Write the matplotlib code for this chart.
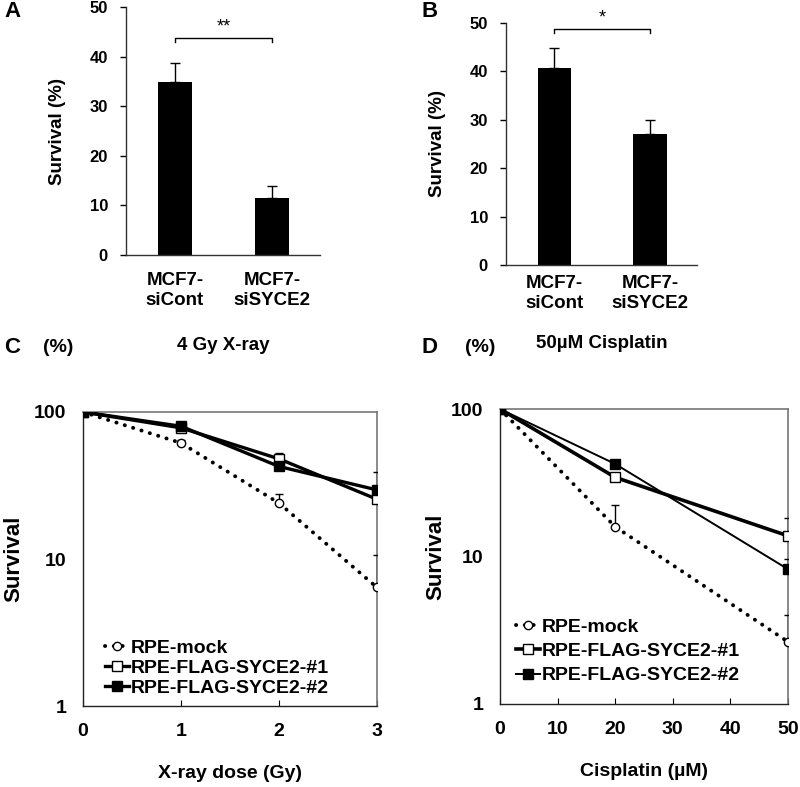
import numpy as np
import matplotlib
matplotlib.use("Agg")
import matplotlib.pyplot as plt
from matplotlib.legend_handler import HandlerLine2D

plt.rcParams['font.family'] = ['Liberation Sans', 'DejaVu Sans']
plt.rcParams['font.weight'] = 'bold'
plt.rcParams['axes.labelweight'] = 'bold'

# --- data ---
bar_groups = ["MCF7-\nsiCont", "MCF7-\nsiSYCE2"]
xray_bar = [34.8, 11.5]
xray_bar_err = [3.9, 2.4]
cis_bar = [40.6, 27.1]
cis_bar_err = [4.3, 2.9]

dose_gy = [0, 1, 2, 3]
xray_mock = [100, 61.5, 24.0, 6.4]
xray_mock_err = [0, 3, 3.5, 4.3]
xray_s1 = [100, 78, 48, 25.5]
xray_s1_err = [0, 8, 5, 0]
xray_s2 = [100, 80, 42.6, 29.5]
xray_s2_err = [0, 6, 4, 9.3]

cis_um = [0, 20, 50]
cis_mock = [100, 15.9, 2.64]
cis_mock_err = [0, 6.4, 1.4]
cis_s1 = [100, 34.4, 13.8]
cis_s1_err = [0, 0, 4.4]
cis_s2 = [100, 42.4, 8.2]
cis_s2_err = [0, 3, 1.4]

series_names = ["RPE-mock", "RPE-FLAG-SYCE2-#1", "RPE-FLAG-SYCE2-#2"]

fig = plt.figure(figsize=(8, 7.87), dpi=100)


class EndMarker(HandlerLine2D):
    # marker drawn at the right end of the legend line
    def get_xdata(self, legend, xdescent, ydescent, width, height, fontsize):
        xdata = np.array([-xdescent, -xdescent + width])
        return xdata, np.array([-xdescent + width - 3])


def bar_panel(rect, vals, errs, stars, bracket_y, caption, cap_y, xpad):
    ax = fig.add_axes(rect)
    x = np.arange(len(vals))
    ax.bar(x, vals, width=0.35, color='black')
    ax.errorbar(x, vals, yerr=[np.zeros(len(errs)), errs], fmt='none',
                ecolor='black', elinewidth=1, capsize=3.5, capthick=1)
    ax.set_xlim(-0.505, 1.495)
    ax.set_ylim(0, 50)
    ax.set_yticks([0, 10, 20, 30, 40, 50])
    ax.set_xticks(x)
    ax.set_xticklabels(bar_groups, fontsize=13.5, linespacing=1.2)
    ax.tick_params(axis='x', length=0, pad=xpad)
    ax.tick_params(axis='y', labelsize=12, length=4, width=1, pad=9)
    for s in ['top', 'right']:
        ax.spines[s].set_visible(False)
    for s in ['left', 'bottom']:
        ax.spines[s].set_linewidth(1)
        ax.spines[s].set_color('#333333')
    ax.set_ylabel("Survival (%)", fontsize=13.5, labelpad=17)
    ax.plot([0, 0, 1, 1], [bracket_y - 0.8, bracket_y, bracket_y, bracket_y - 0.8],
            color='black', lw=1, clip_on=False)
    ax.text(0.5, bracket_y + 0.5, stars, ha='center', va='bottom',
            fontsize=13, fontweight='normal', clip_on=False)
    ax.text(0.5, cap_y, caption, transform=ax.transAxes, ha='center',
            va='center', fontsize=13.5)
    return ax


bar_panel([0.1575, 0.676, 0.2425, 0.315], xray_bar, xray_bar_err, "**", 43.8,
          "4 Gy X-ray", -0.365, 12.5)
bar_panel([0.6325, 0.6633, 0.239, 0.3075], cis_bar, cis_bar_err, "*", 48.7,
          "50µM Cisplatin", -0.325, 7.5)


def curve_panel(rect, xs, mock, mock_e, s1, s1_e, s2, s2_e, xlim, xticks,
                s1_lw, s2_lw, xlabel, leg_anchor, leg_space, ypad):
    ax = fig.add_axes(rect)
    z = np.zeros(len(xs))
    c0 = ax.errorbar(xs, mock, yerr=[z, mock_e], color='black',
                     ls=(0, (0.05, 2.2)), lw=2.8, dash_capstyle='round',
                     marker='o', ms=6, mfc='white', mec='black', mew=1,
                     ecolor='black', elinewidth=1, capsize=3, zorder=3)
    c1 = ax.errorbar(xs, s1, yerr=[z, s1_e], color='black', lw=s1_lw,
                     marker='s', ms=6.5, mfc='white', mec='black', mew=1,
                     ecolor='black', elinewidth=1, capsize=3, zorder=4)
    c2 = ax.errorbar(xs, s2, yerr=[z, s2_e], color='black', lw=s2_lw,
                     marker='s', ms=6.5, mfc='black', mec='black',
                     ecolor='black', elinewidth=1, capsize=3, zorder=4)
    ax.set_yscale('log')
    ax.set_ylim(1, 100)
    ax.set_xlim(*xlim)
    ax.set_xticks(xticks)
    ax.set_yticks([1, 10, 100])
    ax.set_yticklabels(["1", "10", "100"])
    ax.yaxis.set_minor_locator(matplotlib.ticker.NullLocator())
    ax.tick_params(axis='both', direction='in', length=4, width=0.8,
                   labelsize=14, pad=12)
    ax.tick_params(axis='y', length=0)
    for s in ['top', 'right']:
        ax.spines[s].set_color('#777777')
        ax.spines[s].set_linewidth(1.2)
    for s in ['left', 'bottom']:
        ax.spines[s].set_color('#222222')
        ax.spines[s].set_linewidth(1)
    ax.set_ylabel("Survival", fontsize=16, labelpad=ypad)
    ax.set_xlabel(xlabel, fontsize=14, labelpad=18)
    handles = [c0[0], c1[0], c2[0]]
    ax.legend(handles, series_names, loc='lower left',
              bbox_to_anchor=leg_anchor, frameon=False, fontsize=14,
              handlelength=1.2, handletextpad=0.1, labelspacing=leg_space,
              borderaxespad=0, numpoints=1,
              handler_map={h: EndMarker() for h in handles})
    return ax


curve_panel([0.10375, 0.1029, 0.3675, 0.3736], dose_gy, xray_mock,
            xray_mock_err, xray_s1, xray_s1_err, xray_s2, xray_s2_err,
            (0, 3), [0, 1, 2, 3], 2.4, 2.4, "X-ray dose (Gy)",
            (0.05, 0.005), 0.12, 7)
curve_panel([0.625, 0.1055, 0.36, 0.3748], cis_um, cis_mock, cis_mock_err,
            cis_s1, cis_s1_err, cis_s2, cis_s2_err, (0, 50),
            [0, 10, 20, 30, 40, 50], 2.6, 1.4, "Cisplatin (µM)",
            (0.03, 0.04), 0.35, 3)

# panel letters and (%) labels
fig.text(0.005, 0.985, "A", fontsize=16, va='center', ha='left')
fig.text(0.527, 0.985, "B", fontsize=16, va='center', ha='left')
fig.text(0.005, 0.559, "C", fontsize=16, va='center', ha='left')
fig.text(0.054, 0.558, "(%)", fontsize=14, va='center', ha='left')
fig.text(0.527, 0.559, "D", fontsize=16, va='center', ha='left')
fig.text(0.581, 0.558, "(%)", fontsize=14, va='center', ha='left')

fig.savefig("out.png", dpi=100)
